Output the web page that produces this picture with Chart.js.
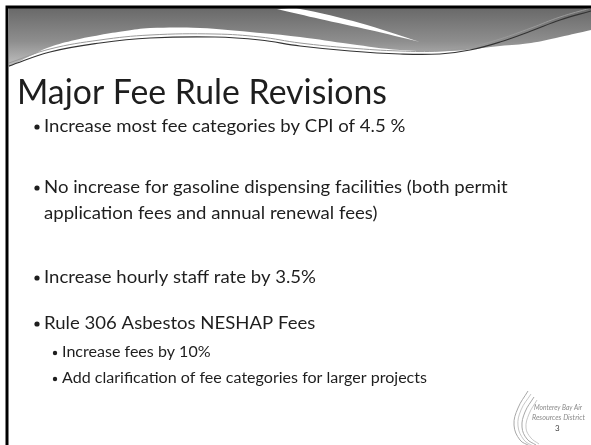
<!DOCTYPE html>
<html>
<head>
<meta charset="utf-8">
<script src="https://cdn.jsdelivr.net/npm/chart.js@4"></script>
<style>
  html, body { margin: 0; padding: 0; background: #fff; }
  canvas { display: block; }
</style>
</head>
<body>
<canvas id="slide" width="591" height="445"></canvas>
<script>
// slide text
const titleText = 'Major Fee Rule Revisions';
const bullets = [
  'Increase most fee categories by CPI of 4.5 %',
  'No increase for gasoline dispensing facilities (both permit',
  'application fees and annual renewal fees)',
  'Increase hourly staff rate by 3.5%',
  'Rule 306 Asbestos NESHAP Fees'
];
const bulletHasDot = [true, true, false, true, true];
const subBullets = [
  'Increase fees by 10%',
  'Add clarification of fee categories for larger projects'
];
const logoLines = ['Monterey Bay Air', 'Resources District'];
const pageNumber = '3';

// header swoosh shapes (x, y in slide pixels)
const headerEdge = [[9,67],[30,56],[50,47],[75,40],[100,35],[125,31],[150,28],[200,28],[250,32],[300,37],[350,44],[400,50],[450,51],[500,46],[531,43],[560,37],[591,30]];
const streakBottom = [[277,9],[320,19],[370,30],[420,42]];
const streakTop = [[277,9],[300,9],[360,23],[420,42]];
const swooshDark = [[9,66],[50,52],[100,43],[150,38],[215,37],[260,40],[300,46],[350,51],[400,54],[440,54],[470,50],[500,42],[531,31],[560,20],[591,11]];
const swooshLight = [[9,63],[50,49],[100,40],[150,35],[215,34],[260,37],[300,43],[350,48],[400,51],[440,51],[470,47],[500,39],[531,28],[560,17],[591,8]];
const frame = [[7,445],[7,7],[591,7]];
const logoArcs = [
  [[528,391],[518,408],[514,425],[520,440],[530,446]],
  [[531,394],[521,410],[518,426],[524,440],[533,446]],
  [[534,397],[525,412],[522,427],[527,439],[536,445]],
  [[537,400],[529,414],[526,428],[531,438],[539,444]]
];

function pts(arr) {
  return arr.map(p => ({x: p[0], y: p[1]}));
}

function drawScaled(ctx, text, x, y, sx) {
  ctx.save();
  ctx.translate(x, y);
  ctx.scale(sx, 1);
  ctx.fillText(text, 0, 0);
  ctx.restore();
}

// text layout
const bulletY = [126, 187, 213, 277, 323];
const subY = [352, 378];

const textPlugin = {
  id: 'slideText',
  beforeDraw(chart) {
    const c = chart.ctx;
    c.save();
    c.fillStyle = '#ffffff';
    c.fillRect(0, 0, chart.width, chart.height);
    c.restore();
  },
  afterDraw(chart) {
    const c = chart.ctx;
    c.save();
    c.textBaseline = 'alphabetic';
    c.fillStyle = '#1e1e1e';
    c.font = '35px Lato';
    drawScaled(c, titleText, 17, 104, 370 / c.measureText(titleText).width);

    // one horizontal factor per level
    c.font = '18px Lato';
    const sMain = 272 / c.measureText(bullets[3]).width;
    bullets.forEach((t, i) => {
      if (bulletHasDot[i]) {
        c.beginPath();
        c.arc(37, bulletY[i] + 1, 2.6, 0, Math.PI * 2);
        c.fill();
      }
      drawScaled(c, t, 44, bulletY[i] + 6, sMain);
    });

    c.font = '15.5px Lato';
    const sSub = 365 / c.measureText(subBullets[1]).width;
    subBullets.forEach((t, i) => {
      c.beginPath();
      c.arc(55, subY[i] + 1, 2.2, 0, Math.PI * 2);
      c.fill();
      drawScaled(c, t, 62, subY[i] + 5, sSub);
    });

    c.fillStyle = '#8a8a8a';
    c.font = 'italic 8px Lato';
    drawScaled(c, logoLines[0], 534, 410, 48 / c.measureText(logoLines[0]).width);
    drawScaled(c, logoLines[1], 532, 420, 53 / c.measureText(logoLines[1]).width);
    c.fillStyle = '#444';
    c.font = '8px Lato';
    c.fillText(pageNumber, 555, 431);
    c.restore();
  }
};

function headerGradient(context) {
  const chart = context.chart;
  if (!chart.chartArea) return '#999';
  const y = chart.scales.y;
  const g = chart.ctx.createLinearGradient(0, y.getPixelForValue(9), 0, y.getPixelForValue(68));
  g.addColorStop(0, '#6a6a6a');
  g.addColorStop(0.55, '#8e8e8e');
  g.addColorStop(1, '#c4c4c4');
  return g;
}

const ds = [];
ds.push({ data: pts(frame), borderColor: '#000', borderWidth: 3, fill: false, order: 0, tension: 0 });
ds.push({ data: pts(swooshDark), borderColor: '#333', borderWidth: 1.2, fill: false, order: 1, tension: 0.4 });
ds.push({ data: pts(swooshLight), borderColor: '#9a9a9a', borderWidth: 1, fill: false, order: 2, tension: 0.4 });
ds.push({ data: pts(streakBottom), borderColor: 'rgba(0,0,0,0)', borderWidth: 0, fill: false, order: 4, tension: 0.3 });
ds.push({ data: pts(streakTop), borderColor: 'rgba(0,0,0,0)', borderWidth: 0, backgroundColor: '#ffffff', fill: '-1', order: 3, tension: 0.3 });
ds.push({ data: pts(headerEdge), borderColor: 'rgba(0,0,0,0)', borderWidth: 0, backgroundColor: headerGradient, fill: {value: 8}, order: 5, tension: 0.4 });
logoArcs.forEach((a, i) => {
  ds.push({ data: pts(a), borderColor: i % 2 ? '#c8c8c8' : '#a8a8a8', borderWidth: 1, fill: false, order: 1, tension: 0.4 });
});

new Chart(document.getElementById('slide').getContext('2d'), {
  type: 'scatter',
  data: { datasets: ds.map(d => Object.assign({ showLine: true, pointRadius: 0, pointHoverRadius: 0 }, d)) },
  options: {
    responsive: false,
    animation: false,
    devicePixelRatio: 1,
    layout: { padding: 0 },
    events: [],
    plugins: { legend: { display: false }, tooltip: { enabled: false } },
    scales: {
      x: { type: 'linear', min: 0, max: 591, display: false },
      y: { type: 'linear', min: 0, max: 445, reverse: true, display: false }
    }
  },
  plugins: [textPlugin]
});
</script>
</body>
</html>
